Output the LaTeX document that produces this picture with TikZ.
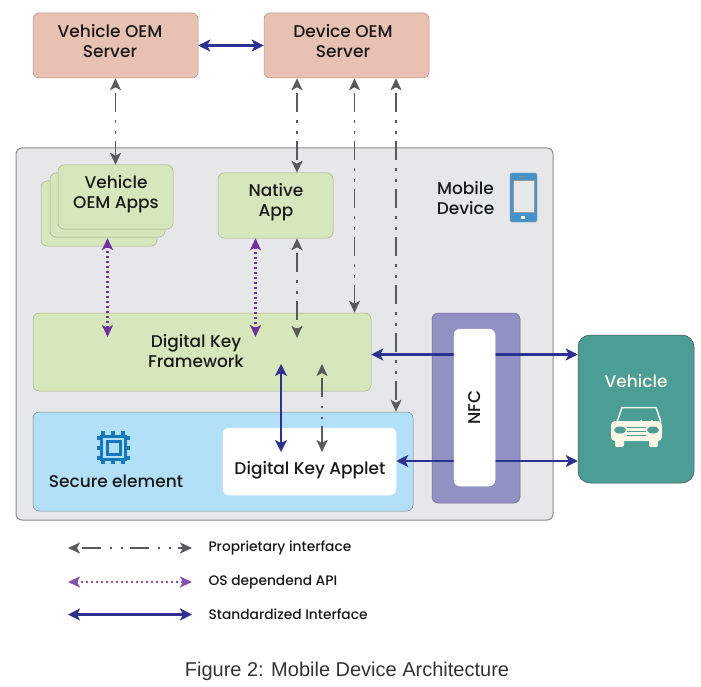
\documentclass[tikz,border=0pt]{standalone}
\usepackage{fontspec}
\setmainfont{Poppins Medium}
\newfontfamily\captionfont{Liberation Sans}
\usetikzlibrary{arrows.meta}
\definecolor{srvfill}{HTML}{E8C1B2}
\definecolor{appfill}{HTML}{D6E8BB}
\definecolor{mobfill}{HTML}{E6E7E9}
\definecolor{secfill}{HTML}{B3E0F9}
\definecolor{nfcfill}{HTML}{9291C3}
\definecolor{vehfill}{HTML}{4B9E96}
\definecolor{stdblue}{HTML}{2E3192}
\definecolor{propgrey}{HTML}{58595B}
\definecolor{apipurple}{HTML}{7030A0}
\definecolor{iconblue}{HTML}{1478BE}
\definecolor{cream}{HTML}{FCF6E4}
\tikzset{
    box/.style={draw=#1!75!black, fill=#1, rounded corners=6pt, line width=0.5pt, inner sep=0pt},
    txt/.style={font=\fontsize{17}{20}\selectfont, align=center, text=black!90},
    legendtxt/.style={font=\fontsize{13.8}{14}\selectfont, anchor=west, text=black!90},
    stdline/.style={draw=stdblue, line width=2.8pt, {Stealth[length=12pt,width=12pt,inset=3pt]}-{Stealth[length=12pt,width=12pt,inset=3pt]}},
    propline/.style={draw=propgrey, line width=1.8pt, dash pattern=on 19pt off 8.5pt on 2.5pt off 8.5pt on 2.5pt off 7pt, dash phase=42pt, {Stealth[length=12pt,width=11pt,inset=3pt]}-{Stealth[length=12pt,width=11pt,inset=3pt]}},
    apiline/.style={draw=apipurple, line width=2.2pt, dash pattern=on 2pt off 3pt, {Stealth[length=12pt,width=11pt,inset=3pt]}-{Stealth[length=12pt,width=11pt,inset=3pt]}},
}
\begin{document}
\begin{tikzpicture}[x=1pt, y=-1pt]
    \useasboundingbox (0,0) rectangle (701,687);
    % mobile device frame
    \node[box=mobfill, draw=black!45, line width=1pt, minimum width=537pt, minimum height=372pt] (mobile) at (284.5,334) {};
    % servers
    \node[box=srvfill, minimum width=165pt, minimum height=65pt] (vehsrv) at (115.5,45.5) {};
    \node[box=srvfill, minimum width=165pt, minimum height=65pt] (devsrv) at (346.5,45.5) {};
    \node[txt] (vehsrvtxt) at (110,41) {Vehicle OEM\\Server};
    \node[txt] (devsrvtxt) at (343,41) {Device OEM\\Server};
    % stack of apps
    \node[box=appfill, minimum width=116pt, minimum height=65pt] (apps3) at (99,213.5) {};
    \node[box=appfill, minimum width=115pt, minimum height=64pt] (apps2) at (107.5,205) {};
    \node[box=appfill, minimum width=115pt, minimum height=64pt] (apps1) at (115.5,197) {};
    \node[txt] (appstxt) at (116,194) {Vehicle\\OEM Apps};
    \node[box=appfill, minimum width=115pt, minimum height=65pt] (native) at (275.5,205.5) {};
    \node[txt] (nativetxt) at (276,202) {Native\\App};
    \node[txt] (mobiletxt) at (465.5,198) {Mobile\\Device};
    % phone icon
    \draw[draw=black!40, fill=iconblue!80!white, rounded corners=1.5pt] (510,173) rectangle (537,222);
    \draw[draw=black!40, fill=mobfill] (513,180) rectangle (534,212);
    \fill[black!45] (519,176) rectangle (527,177.5);
    \fill[white] (521,216) rectangle (525,218.5);
    % framework, secure element, nfc, vehicle
    \node[box=appfill, minimum width=338pt, minimum height=78pt] (frame) at (202,352) {};
    \node[txt] (frametxt) at (196,351) {Digital Key\\Framework};
    \node[box=secfill, draw=black!50, minimum width=380pt, minimum height=99pt] (secure) at (223,461.5) {};
    \node[txt] (securetxt) at (116,481) {Secure element};
    \node[box=white, draw=white, minimum width=173pt, minimum height=67pt] (applet) at (309.5,461.5) {};
    \node[txt] (applettxt) at (310,470) {Digital Key Applet};
    \node[box=nfcfill, minimum width=88pt, minimum height=190pt] (nfcouter) at (476,408) {};
    \node[box=vehfill, draw=black!70, rounded corners=12pt, minimum width=116pt, minimum height=148pt] (vehicle) at (636,409) {};
    \node[txt, text=cream] (vehicletxt) at (636,381) {Vehicle};
    % chip icon
    \foreach \t in {-10,0,10} {
        \fill[iconblue] (113+\t-2,431) rectangle (113+\t+2,464);
        \fill[iconblue] (97,447.5+\t-2) rectangle (130,447.5+\t+2);
    }
    \fill[iconblue] (100,434.5) rectangle (127,461);
    \fill[secfill] (103,437.5) rectangle (124,458);
    \fill[iconblue] (105.5,440) rectangle (121.5,455.5);
    \fill[secfill] (108.5,443) rectangle (118.5,452.5);
    % car icon
    \draw[cream, line width=1.5pt] (617,422) -- (622,407.5) -- (656,407.5) -- (661,422);
    \draw[cream, line width=1.2pt] (641,420) arc[start angle=180, end angle=360, radius=5.5pt];
    \fill[cream, rounded corners=4pt] (611,421) rectangle (662,441);
    \fill[cream, rounded corners=2pt] (615,438) rectangle (624,447);
    \fill[cream, rounded corners=2pt] (649,438) rectangle (658,447);
    \fill[vehfill] (620,430) ellipse[x radius=6pt, y radius=3.5pt];
    \fill[vehfill] (653,430) ellipse[x radius=6pt, y radius=3.5pt];
    \draw[vehfill, line width=0.8pt] (627,427) -- (646,427) (627,431) -- (646,431) (627,435) -- (646,435);
    % lanes for the vertical connectors
    \coordinate (lanea) at (297,0);
    \coordinate (laneb) at (354.5,0);
    \coordinate (lanec) at (396,0);
    \coordinate (apia) at (107.5,337);
    \coordinate (apib) at (255.5,337);
    \coordinate (apptop) at (107.5,238);
    \coordinate (natend) at (297,338);
    \coordinate (stda) at (281,364);
    \coordinate (stdb) at (281,452);
    \coordinate (propa) at (322,364);
    \coordinate (propb) at (322,452);
    \coordinate (framerow) at (0,354.5);
    \coordinate (appletrow) at (0,461);
    % servers and mobile device
    \draw[stdline] (vehsrv.east) -- (devsrv.west);
    \draw[propline] (vehsrv.south) -- (apps1.north);
    \draw[propline] (devsrv.south -| lanea) -- (native.north -| lanea);
    \draw[propline] (devsrv.south -| laneb) -- (frame.north -| laneb);
    \draw[propline] (devsrv.south -| lanec) -- (secure.north -| lanec);
    % inside mobile device
    \draw[apiline] (apptop) -- (apia);
    \draw[apiline] (native.south -| apib) -- (apib);
    \draw[propline] (native.south -| lanea) -- (natend);
    \draw[stdline] (stda) -- (stdb);
    \draw[propline] (propa) -- (propb);
    % nfc links go behind the white strip
    \draw[stdline] (frame.east |- framerow) -- (vehicle.west |- framerow);
    \draw[stdline] (applet.east |- appletrow) -- (vehicle.west |- appletrow);
    \node[box=white, draw=white, rounded corners=6pt, minimum width=41pt, minimum height=157pt] (nfcinner) at (474.5,407.5) {};
    \node[txt, rotate=90, font=\fontsize{17}{20}\selectfont] (nfctxt) at (475,407.5) {NFC};
    % legend
    \coordinate (lega) at (68,548);
    \coordinate (legb) at (192,548);
    \coordinate (legc) at (68,582);
    \coordinate (legd) at (192,582);
    \coordinate (lege) at (68,614.5);
    \coordinate (legf) at (192,614.5);
    \draw[propline] (lega) -- (legb);
    \draw[apiline, draw=apipurple!85!white] (legc) -- (legd);
    \draw[stdline] (lege) -- (legf);
    \node[legendtxt] (legpro) at (205,548) {Proprietary interface};
    \node[legendtxt] (legapi) at (205,582) {OS dependend API};
    \node[legendtxt] (legstd) at (205,614) {Standardized Interface};
    \node[font=\captionfont\fontsize{20}{24}\selectfont, text=black!80] (figcap) at (347,671) {Figure 2: Mobile Device Architecture};
\end{tikzpicture}
\end{document}
